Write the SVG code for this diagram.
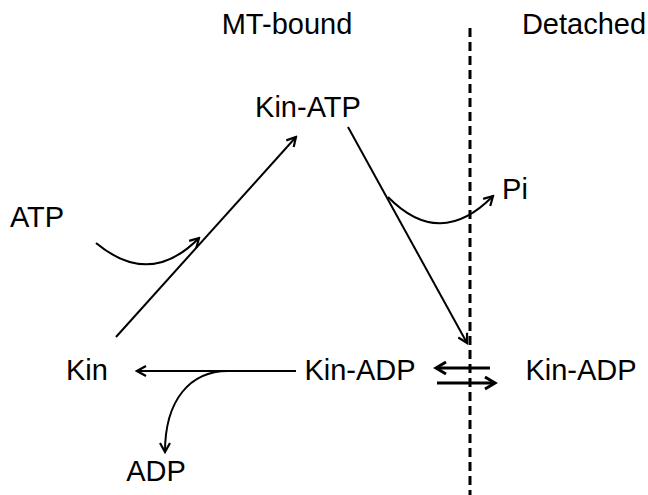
<svg xmlns="http://www.w3.org/2000/svg" width="648" height="495" viewBox="0 0 648 495">
<style>
text{font-family:"Liberation Sans",Arial,sans-serif;font-size:29px;fill:#000;text-anchor:middle}
.c{fill:none;stroke:#000;stroke-width:2}
.t{fill:none;stroke:#000;stroke-width:3}
.d{fill:none;stroke:#000;stroke-width:3;stroke-dasharray:9 5}
</style>
<defs>
<marker id="ah" markerWidth="12" markerHeight="12" refX="10" refY="6" orient="auto" markerUnits="userSpaceOnUse">
<polyline points="1,1 10,6 1,11" fill="none" stroke="#000" stroke-width="2.2"/>
</marker>
<marker id="ah2" markerWidth="16" markerHeight="16" refX="12" refY="8" orient="auto" markerUnits="userSpaceOnUse">
<polyline points="2,2 12,8 2,14" fill="none" stroke="#000" stroke-width="3"/>
</marker>
</defs>
<rect width="648" height="495" fill="#fff"/>
<g id="labels">
<g id="mtbound"><text x="287" y="34">MT-bound</text></g>
<g id="detached"><text x="584" y="34">Detached</text></g>
</g>
<g id="kinatp"><text x="308" y="117">Kin-ATP</text></g>
<g id="pi"><text x="515" y="199">Pi</text></g>
<g id="atp"><text x="37" y="227">ATP</text></g>
<g id="kin"><text x="87" y="380">Kin</text></g>
<g id="kinadp-bound"><text x="360" y="380">Kin-ADP</text></g>
<g id="kinadp-detached"><text x="581" y="380">Kin-ADP</text></g>
<g id="adp"><text x="156" y="481">ADP</text></g>
<g id="connectors">
<line class="d" x1="470" y1="28" x2="470" y2="495"/>
<line class="c" x1="116" y1="337" x2="296" y2="137" marker-end="url(#ah)"/>
<line class="c" x1="348" y1="127" x2="467" y2="343" marker-end="url(#ah)"/>
<path class="c" d="M96,243 Q150,288 199,238" marker-end="url(#ah)"/>
<path class="c" d="M388,197 Q440,250 493,196" marker-end="url(#ah)"/>
<line class="c" x1="296" y1="371" x2="137" y2="371" marker-end="url(#ah)"/>
<path class="c" d="M228,371 C190,371 165,400 165,452" marker-end="url(#ah)"/>
<line class="t" x1="490" y1="368" x2="436" y2="368" marker-end="url(#ah2)"/>
<line class="t" x1="437" y1="383" x2="495" y2="383" marker-end="url(#ah2)"/>
</g>
</svg>
